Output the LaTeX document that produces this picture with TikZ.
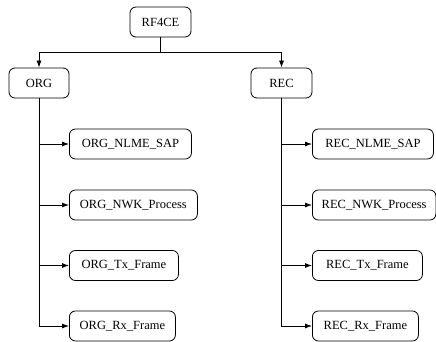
\documentclass[tikz,border=0pt]{standalone}
\usepackage{fontspec}
\setmainfont{Liberation Serif}
\usetikzlibrary{arrows.meta}
\begin{document}
\begin{tikzpicture}[x=1pt,y=-1pt,
  box/.style={draw, line width=0.8pt, rounded corners=6pt, minimum height=30pt, inner sep=0pt, font=\fontsize{12.5}{14}\selectfont},
  conn/.style={draw, line width=0.8pt, -{Latex[length=7pt,width=5pt]}}]
\useasboundingbox (0,0) rectangle (436,342);
\node[box, minimum width=61pt] (rf) at (160.5,22) {RF4CE};
\node[box, minimum width=60pt] (org) at (39,83) {ORG};
\node[box, minimum width=61pt] (rec) at (281.5,83) {REC};
\node[box, anchor=west, minimum width=122pt] (o1) at (69,144) {ORG\_NLME\_SAP};
\node[box, anchor=west, minimum width=128pt] (o2) at (69,205) {ORG\_NWK\_Process};
\node[box, anchor=west, minimum width=109pt] (o3) at (69,265.5) {ORG\_Tx\_Frame};
\node[box, anchor=west, minimum width=106pt] (o4) at (69,326) {ORG\_Rx\_Frame};
\node[box, anchor=west, minimum width=121pt] (r1) at (312,144) {REC\_NLME\_SAP};
\node[box, anchor=west, minimum width=123.5pt] (r2) at (312,205) {REC\_NWK\_Process};
\node[box, anchor=west, minimum width=110pt] (r3) at (312,265.5) {REC\_Tx\_Frame};
\node[box, anchor=west, minimum width=106pt] (r4) at (312,326) {REC\_Rx\_Frame};
\draw[conn] (rf.south) -- ++(0,15) -| (org.north);
\draw[conn] (rf.south) -- ++(0,15) -| (rec.north);
\foreach \c in {o1,o2,o3,o4} \draw[conn] (org.south) |- (\c.west);
\foreach \c in {r1,r2,r3,r4} \draw[conn] (rec.south) |- (\c.west);
\end{tikzpicture}
\end{document}
